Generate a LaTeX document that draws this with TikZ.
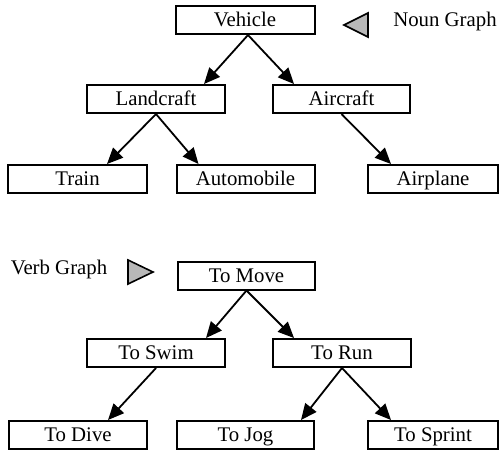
\documentclass[tikz,border=0pt]{standalone}
\usepackage{fontspec}
\setmainfont{Liberation Serif}
\usetikzlibrary{arrows.meta,calc}
\tikzset{
  box/.style={draw=black, line width=2pt, minimum height=28pt, inner sep=0pt, text height=13.5pt, text depth=0pt, font=\fontsize{20.8}{24}\selectfont},
  lbl/.style={inner sep=0pt, font=\fontsize{20.8}{24}\selectfont},
  arr/.style={line width=1.8pt, -{Triangle[length=16pt,width=14pt]}},
  marker/.style={draw=black, line width=1.6pt, fill=black!28, line join=miter}
}
\begin{document}
\begin{tikzpicture}[x=1pt,y=-1pt]
\useasboundingbox (0,0) rectangle (502,451);
% Noun graph
\node[box, minimum width=139pt] (vehicle) at (245,20) {Vehicle};
\node[box, minimum width=138pt] (landcraft) at (156,99) {Landcraft};
\node[box, minimum width=137pt] (aircraft) at (341.5,99) {Aircraft};
\node[box, minimum width=139pt] (train) at (77.5,179) {Train};
\node[box, minimum width=138pt] (automobile) at (245.5,179) {Automobile};
\node[box, minimum width=130pt] (airplane) at (433,179) {Airplane};
\draw[marker] (344,25) -- (368,13) -- (368,37) -- cycle;
\node[lbl] (noun) at (445,21) {Noun Graph};
\draw[arr] ($(vehicle.south)+(3,0)$) -- ($(landcraft.north east)+(-22,0)$);
\draw[arr] ($(vehicle.south)+(3,0)$) -- ($(aircraft.north west)+(22,0)$);
\draw[arr] (landcraft.south) -- ($(train.north east)+(-41,0)$);
\draw[arr] (landcraft.south) -- ($(automobile.north west)+(23,0)$);
\draw[arr] (aircraft.south) -- ($(airplane.north west)+(24,0)$);
% Verb graph
\node[box, minimum width=137pt] (move) at (246.5,275.5) {To Move};
\node[box, minimum width=138pt] (swim) at (156,353) {To Swim};
\node[box, minimum width=138pt] (run) at (342,353) {To Run};
\node[box, minimum width=138pt] (dive) at (78,435) {To Dive};
\node[box, minimum width=137pt] (jog) at (245.5,435) {To Jog};
\node[box, minimum width=130pt] (sprint) at (433,435) {To Sprint};
\draw[marker] (153,272) -- (128,260) -- (128,284) -- cycle;
\node[lbl] (verb) at (59,269) {Verb Graph};
\draw[arr] (move.south) -- ($(swim.north east)+(-20,0)$);
\draw[arr] (move.south) -- ($(run.north west)+(22,0)$);
\draw[arr] (swim.south) -- ($(dive.north east)+(-40,0)$);
\draw[arr] (run.south) -- ($(jog.north east)+(-14,0)$);
\draw[arr] (run.south) -- ($(sprint.north west)+(24,0)$);
\end{tikzpicture}
\end{document}
